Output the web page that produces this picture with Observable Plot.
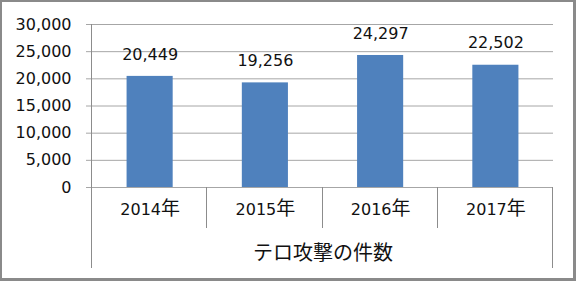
<!DOCTYPE html>
<html><head><meta charset="utf-8">
<script src="https://cdn.jsdelivr.net/npm/d3@7"></script>
<script src="https://cdn.jsdelivr.net/npm/@observablehq/plot@0.6"></script>
<style>body{margin:0;background:#fff}</style>
</head><body><div id="chart"></div>
<script>
const years = ["2014年", "2015年", "2016年", "2017年"];
const counts = [20449, 19256, 24297, 22502];
const yTicks = [0, 5000, 10000, 15000, 20000, 25000, 30000];
const seriesLabel = "テロ攻撃の件数";

const data = years.map((y, i) => ({year: y, count: counts[i]}));
const fmt = d3.format(",");
const gridColor = "#a6a6a6";
const axisColor = "#8c8c8c";

const plot = Plot.plot({
  width: 576, height: 281,
  marginLeft: 92, marginRight: 23, marginTop: 24, marginBottom: 94,
  style: {fontFamily: "'DejaVu Sans','Noto Sans CJK JP',sans-serif", fontSize: "16px", color: "#111", background: "#fff"},
  x: {domain: years, paddingInner: 0.6, paddingOuter: 0.3, round: false, axis: null},
  y: {domain: [0, 30000], axis: null},
  marks: [
    Plot.ruleY(yTicks, {stroke: gridColor, insetLeft: -6}),
    Plot.axisY({ticks: yTicks, tickSize: 0, tickPadding: 21, tickFormat: fmt, fontSize: 16, label: null}),
    Plot.barY(data, {x: "year", y: "count", fill: "#4f81bd"}),
    Plot.text(data, {x: "year", y: "count", text: d => fmt(d.count), dy: -22, fontSize: 16}),
    Plot.text(years, {x: d => d, frameAnchor: "bottom", dy: 27, fontSize: 16}),
    Plot.text([seriesLabel], {frameAnchor: "bottom", dy: 72, fontSize: 20, fontFamily: "'Noto Sans CJK JP',sans-serif"})
  ]
});

const svg = d3.select(plot.tagName === "svg" ? plot : plot.querySelector("svg"));

// enlarge the CJK "年" glyph as in the reference
svg.selectAll("text").filter(function () { return /年$/.test(this.textContent); }).each(function () {
  const s = this.textContent;
  const t = d3.select(this);
  t.text(null);
  t.append("tspan").text(s.slice(0, -1));
  t.append("tspan").attr("font-size", 19).attr("font-family", "'Noto Sans CJK JP',sans-serif").text(s.slice(-1));
});

// category separators derived from the band scale
const xs = plot.scale("x"), ys = plot.scale("y");
const first = xs.apply(years[0]) - (xs.step - xs.bandwidth) / 2;
const y0 = ys.apply(0), yTop = ys.apply(30000);
const g = svg.append("g").attr("stroke", axisColor).attr("stroke-width", 1).attr("shape-rendering", "crispEdges");
for (let i = 0; i <= years.length; i++) {
  const x = Math.round(first + i * xs.step) - 0.5;
  const outer = i === 0 || i === years.length;
  g.append("line").attr("x1", x).attr("x2", x)
    .attr("y1", i === 0 ? yTop : y0).attr("y2", outer ? y0 + 81 : y0 + 41);
}

// outer chart border
const b = svg.append("g").attr("fill", "#8a8a8a");
b.append("rect").attr("x", 0).attr("y", 0).attr("width", 576).attr("height", 2);
b.append("rect").attr("x", 0).attr("y", 0).attr("width", 2).attr("height", 281);
b.append("rect").attr("x", 573).attr("y", 0).attr("width", 3).attr("height", 281);
b.append("rect").attr("x", 0).attr("y", 278).attr("width", 576).attr("height", 3);

document.getElementById("chart").append(plot);
</script>
</body></html>
